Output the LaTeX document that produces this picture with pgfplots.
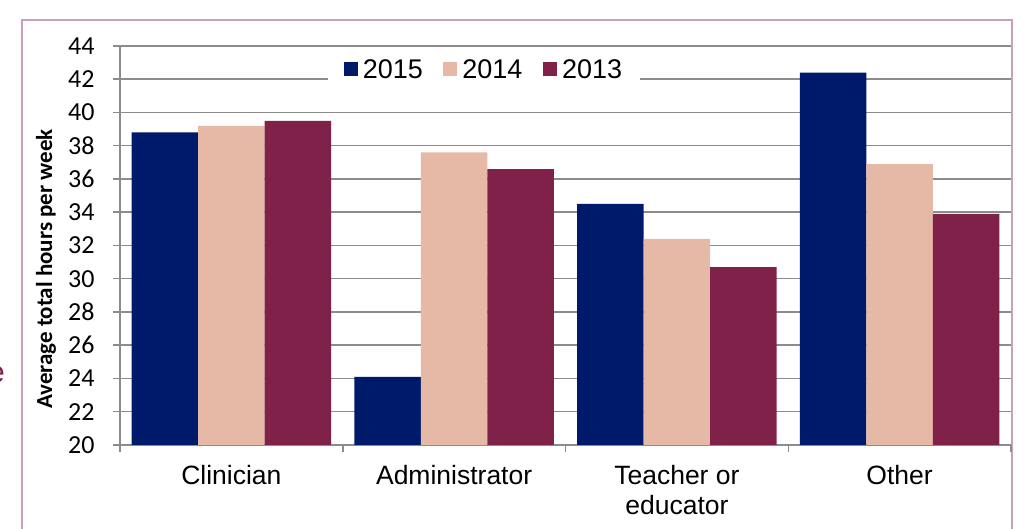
\documentclass[border=0pt]{standalone}
\usepackage{pgfplots}
\pgfplotsset{compat=1.18}
\usepackage{fontspec}
\setmainfont{Liberation Sans}
\newfontfamily\carlito{Carlito}
\definecolor{c2015}{HTML}{001A6B}
\definecolor{c2014}{HTML}{E6B9A6}
\definecolor{c2013}{HTML}{7F2149}
\definecolor{gridgray}{HTML}{8C8C8C}
\definecolor{framepink}{HTML}{C9A0B9}

\begin{document}
\begin{tikzpicture}[x=1pt,y=1pt]
  \useasboundingbox (0,0) rectangle (1031,529);
  \draw[framepink,line width=1.5pt] (22,-5) -- (22,509) -- (1012,509) -- (1012,-5);
  % cut-off letter at the left edge
  \node[anchor=base east,text=c2013,font=\fontsize{30}{30}\selectfont,inner sep=0pt] at (5,146) {e};
\begin{axis}[
    at={(120pt,84pt)}, anchor=south west,
    scale only axis, width=891pt, height=399pt,
    ybar=0pt, bar width=66.5pt,
    xmin=-0.5, xmax=3.5, ymin=20, ymax=44,
    xtick={0,1,2,3},
    xticklabels={Clinician, Administrator, {Teacher or\\educator}, Other},
    major x tick style={draw=none},
    minor xtick={-0.5,0.5,1.5,2.5,3.5},
    ytick={20,22,...,44},
    /pgf/number format/assume math mode=true,
    yticklabel={\pgfmathprintnumber{\tick}},
    y tick label style={font=\carlito\fontsize{26}{26}\selectfont, anchor=east, xshift=-15pt},
    axis x line*=bottom, axis y line*=left,
    axis line style={gridgray,line width=1.5pt,-},
    tick align=outside, major tick length=7pt, minor tick length=7pt,
    tick style={gridgray,line width=1.5pt},
    ymajorgrids, grid style={gridgray,line width=1.5pt},
    x tick label style={font=\fontsize{26.5}{30}\selectfont, align=center, yshift=-10pt},
    ylabel={Average total hours per week},
    every axis y label/.style={at={(-0.0831,0.441)}, rotate=90, anchor=center,
      font=\carlito\bfseries\fontsize{23}{23}\selectfont},
    legend columns=3,
    legend style={at={(0.4085,0.941)}, anchor=center, draw=none, fill=white,
      font=\fontsize{27}{30}\selectfont, inner xsep=16pt, inner ysep=9pt,
      /tikz/every even column/.append style={column sep=18.5pt}},
    legend image code/.code={\fill[#1] (0pt,-6pt) rectangle (14pt,8pt); \path (17pt,0pt);},
  ]
\addplot[fill=c2015,draw=none] coordinates {(0,38.8) (1,24.1) (2,34.5) (3,42.4)};
\addplot[fill=c2014,draw=none] coordinates {(0,39.2) (1,37.6) (2,32.4) (3,36.9)};
\addplot[fill=c2013,draw=none] coordinates {(0,39.5) (1,36.6) (2,30.7) (3,33.9)};
\legend{2015,2014,2013}
\end{axis}
\end{tikzpicture}
\end{document}
